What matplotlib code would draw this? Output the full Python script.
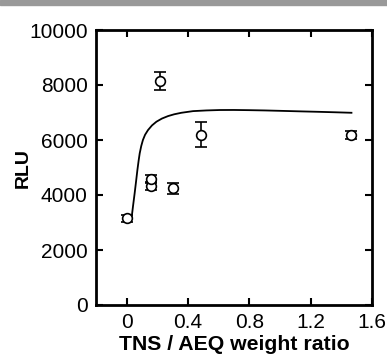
import matplotlib
matplotlib.use("Agg")
import matplotlib.pyplot as plt
from matplotlib.patches import Rectangle

plt.rcParams['font.family'] = ['Liberation Sans', 'DejaVu Sans']

# Data points
x_pts = [0.0, 0.157, 0.157, 0.217, 0.30, 0.487, 1.46]
y_pts = [3150, 4340, 4570, 8150, 4240, 6200, 6190]
y_err = [120, 150, 150, 330, 200, 450, 150]

# Fitted curve
x_fit = [0.033, 0.042, 0.052, 0.061, 0.070, 0.078, 0.085, 0.095, 0.106, 0.12, 0.139,
         0.165, 0.194, 0.23, 0.27, 0.31, 0.357, 0.433, 0.52, 0.607, 0.7, 0.8, 0.9,
         1.02, 1.14, 1.25, 1.36, 1.466]
y_fit = [3210, 3620, 4060, 4480, 4910, 5250, 5515, 5780, 6000, 6190, 6360,
         6530, 6665, 6780, 6870, 6935, 6990, 7050, 7075, 7090, 7092, 7085, 7075,
         7058, 7040, 7025, 7008, 6990]

xticks = [0, 0.4, 0.8, 1.2, 1.6]
xticklabels = ['0', '0.4', '0.8', '1.2', '1.6']
yticks = [0, 2000, 4000, 6000, 8000, 10000]

fig = plt.figure(figsize=(3.87, 3.6), dpi=100)
ax = fig.add_axes([96/387, 1-305/360, (372-96)/387, (305-30)/360])

fig.patches.append(Rectangle((0, 1-5/360), 1, 5/360, transform=fig.transFigure,
                             color='#999999', zorder=0))

ax.plot(x_fit, y_fit, color='black', lw=1.3)
ax.errorbar(x_pts, y_pts, yerr=y_err, fmt='o', mfc='white', mec='black', ms=7,
            mew=1.2, ecolor='black', elinewidth=1.2, capsize=4, capthick=1.2)

ax.set_xlim(-0.2, 1.6)
ax.set_ylim(0, 10000)
ax.set_xticks(xticks)
ax.set_xticklabels(xticklabels)
ax.set_yticks(yticks)
ax.tick_params(direction='in', length=5, width=1.5, labelsize=15, top=True, right=True, pad=6)
for s in ax.spines.values():
    s.set_linewidth(2)
ax.set_xlabel('TNS / AEQ weight ratio', fontsize=15.3, fontweight='bold', labelpad=2)
ax.set_ylabel('RLU', fontsize=14, fontweight='bold', labelpad=-2)

fig.savefig('out.png', dpi=100)
